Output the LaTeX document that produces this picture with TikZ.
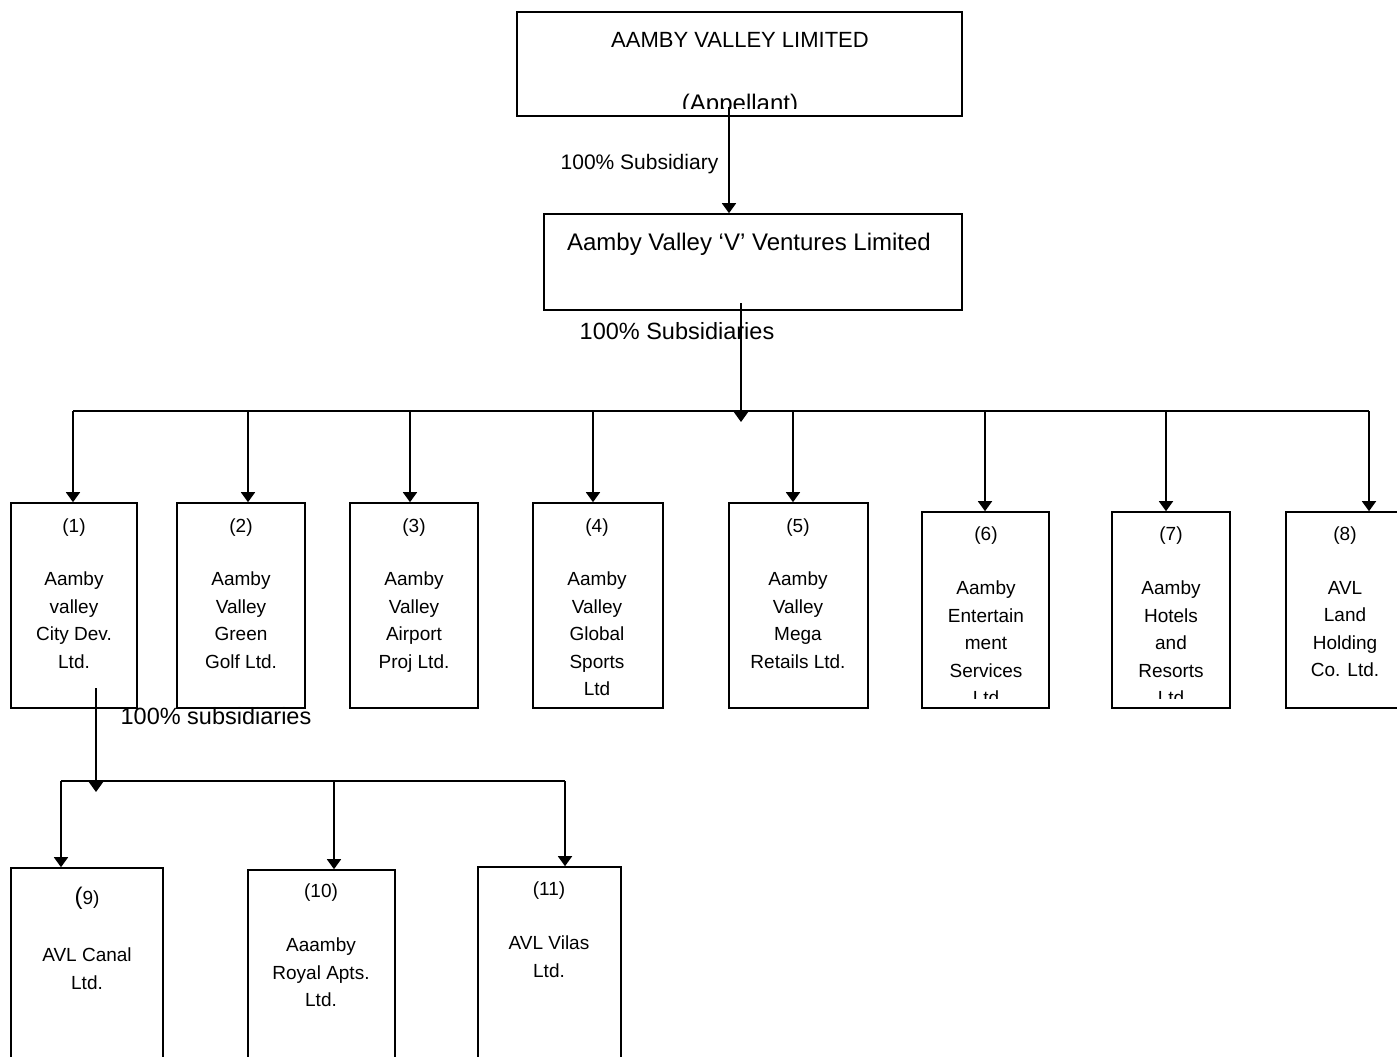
\documentclass[tikz,border=0pt]{standalone}
\usepackage{fontspec}
\setmainfont{Liberation Sans}
\usetikzlibrary{arrows.meta}
\begin{document}
\begin{tikzpicture}[x=1pt,y=-1pt,
  conn/.style={line width=1.6pt},
  arr/.style={line width=1.6pt,-{Triangle[width=14pt,length=10pt]}},
  boxn/.style={draw,line width=1.6pt,inner sep=0pt,fill=white},
  txt/.style={align=center,anchor=north,inner sep=0pt,font=\fontsize{19}{27.5}\selectfont},
  lbl/.style={anchor=base,inner sep=0pt,font=\fontsize{23.5}{28}\selectfont}]
\useasboundingbox (0,0) rectangle (1397,1057);
\clip (0,0) rectangle (1397,1057);

% top boxes
\node[boxn,minimum width=445pt,minimum height=104pt] (top) at (739.5,64) {};
\node[inner sep=0pt,anchor=base,font=\fontsize{22}{26}\selectfont] (toptxt) at (740,48) {AAMBY VALLEY LIMITED};
\begin{scope}
\clip (517,12) rectangle (962,108);
\node[inner sep=0pt,anchor=base,font=\fontsize{24}{28}\selectfont] (appl) at (740,111) {(Appellant)};
\end{scope}

\node[boxn,minimum width=418pt,minimum height=96pt] (vv) at (753,262) {};
\node[inner sep=0pt,anchor=base,font=\fontsize{24}{28}\selectfont] (vvtxt) at (749,250) {Aamby Valley ‘V’ Ventures Limited};

\node[lbl,font=\fontsize{21}{26}\selectfont] (l1) at (639.5,169) {100\% Subsidiary};
\node[lbl] (l2) at (677,339) {100\% Subsidiaries};

% connector top -> vv
\coordinate (s1) at (729,107);
\draw[arr] (s1) -- (s1 |- vv.north);

% first row boxes
\node[boxn,minimum width=126pt,minimum height=205pt] (b1) at (74,605.5) {};
\node[boxn,minimum width=128pt,minimum height=205pt] (b2) at (241,605.5) {};
\node[boxn,minimum width=128pt,minimum height=205pt] (b3) at (414,605.5) {};
\node[boxn,minimum width=130pt,minimum height=205pt] (b4) at (598,605.5) {};
\node[boxn,minimum width=139pt,minimum height=205pt] (b5) at (798.5,605.5) {};
\node[boxn,minimum width=127pt,minimum height=196pt] (b6) at (985.5,610) {};
\node[boxn,minimum width=118pt,minimum height=196pt] (b7) at (1171,610) {};
\node[boxn,minimum width=124pt,minimum height=196pt] (b8) at (1348,610) {};

\node[txt] (n1) at (74,519) {(1)};
\node[txt] (t1) at (74,572) {Aamby\\valley\\City Dev.\\Ltd.};
\node[txt] (n2) at (241,519) {(2)};
\node[txt] (t2) at (241,572) {Aamby\\Valley\\Green\\Golf Ltd.};
\node[txt] (n3) at (414,519) {(3)};
\node[txt] (t3) at (414,572) {Aamby\\Valley\\Airport\\Proj Ltd.};
\node[txt] (n4) at (597,519) {(4)};
\node[txt] (t4) at (597,572) {Aamby\\Valley\\Global\\Sports\\Ltd};
\node[txt] (n5) at (798,519) {(5)};
\node[txt] (t5) at (798,572) {Aamby\\Valley\\Mega\\Retails Ltd.};
\node[txt] (n6) at (986,527) {(6)};
\node[txt] (n7) at (1171,527) {(7)};
\begin{scope}
\clip (900,500) rectangle (1260,698);
\node[txt] (t6) at (986,581) {Aamby\\Entertain\\ment\\Services\\Ltd};
\node[txt] (t7) at (1171,581) {Aamby\\Hotels\\and\\Resorts\\Ltd};
\end{scope}
\node[txt] (n8) at (1345,527) {(8)};
\node[txt] (t8) at (1345,581) {AVL\\Land\\Holding\\Co. Ltd.};

% bus from vv
\coordinate (s2) at (741,303);
\coordinate (j1) at (741,422);
\coordinate (d1) at (73,411);
\coordinate (d2) at (248,411);
\coordinate (d3) at (410,411);
\coordinate (d4) at (593,411);
\coordinate (d5) at (793,411);
\coordinate (d6) at (985,411);
\coordinate (d7) at (1166,411);
\coordinate (d8) at (1369,411);
\draw[conn] (d1) -- (d8);
\draw[arr] (s2) -- (j1);
\foreach \i in {1,...,8} {\draw[arr] (d\i) -- (d\i |- b\i.north);}

% second level
\node[lbl] (l3) at (216,724) {100\% subsidiaries};
\coordinate (s3) at (96,688);
\coordinate (j2) at (96,792);
\coordinate (e9) at (61,781);
\coordinate (e10) at (334,781);
\coordinate (e11) at (565,781);

\node[boxn,minimum width=152pt,minimum height=207pt] (b9) at (87,971.5) {};
\node[boxn,minimum width=147pt,minimum height=205pt] (b10) at (321.5,972.5) {};
\node[boxn,minimum width=143pt,minimum height=208pt] (b11) at (549.5,971) {};

\draw[conn] (e9) -- (e11);
\draw[arr] (s3) -- (j2);
\foreach \i in {9,10,11} {\draw[arr] (e\i) -- (e\i |- b\i.north);}

\node[txt,anchor=base] (n9) at (87,904) {{\fontsize{24}{28}\selectfont(}9)};
\node[txt] (t9) at (87,948) {AVL Canal\\Ltd.};
\node[txt] (n10) at (321,884) {(10)};
\node[txt] (t10) at (321,938) {Aaamby\\Royal Apts.\\Ltd.};
\node[txt] (n11) at (549,882) {(11)};
\node[txt] (t11) at (549,936) {AVL Vilas\\Ltd.};
\end{tikzpicture}
\end{document}
